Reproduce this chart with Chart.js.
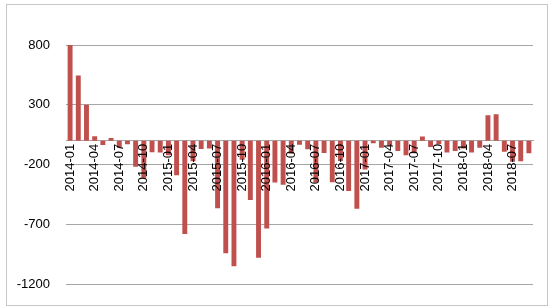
<!DOCTYPE html>
<html>
<head>
<meta charset="utf-8">
<script src="https://cdn.jsdelivr.net/npm/chart.js@4"></script>
<style>
  body { margin: 0; background: #ffffff; }
  canvas { display: block; }
</style>
</head>
<body>
<canvas id="flow-chart" width="550" height="308"></canvas>
<script>
// Monthly categories, 2014-01 .. 2018-09
const months = [
  '2014-01', '2014-02', '2014-03', '2014-04', '2014-05', '2014-06', '2014-07', '2014-08', '2014-09', '2014-10', '2014-11', '2014-12',
  '2015-01', '2015-02', '2015-03', '2015-04', '2015-05', '2015-06', '2015-07', '2015-08', '2015-09', '2015-10', '2015-11', '2015-12',
  '2016-01', '2016-02', '2016-03', '2016-04', '2016-05', '2016-06', '2016-07', '2016-08', '2016-09', '2016-10', '2016-11', '2016-12',
  '2017-01', '2017-02', '2017-03', '2017-04', '2017-05', '2017-06', '2017-07', '2017-08', '2017-09', '2017-10', '2017-11', '2017-12',
  '2018-01', '2018-02', '2018-03', '2018-04', '2018-05', '2018-06', '2018-07', '2018-08', '2018-09'
];

// Values
const values = [
  800, 545, 300, 36, -37, 22, -60, -30, -218, -310, -97, -99,
  -122, -289, -780, -172, -70, -66, -565, -942, -1049, -160, -497, -978,
  -735, -350, -368, -110, -33, -71, -350, -104, -348, -170, -420, -569,
  -240, -22, -60, -45, -87, -122, -105, 34, -53, -27, -99, -87,
  -66, -99, -60, 213, 221, -92, -176, -171, -106
];

// y tick labels
const yTicks = [-1200, -700, -200, 300, 800];

document.addEventListener("DOMContentLoaded", function () {
  // light frame round the whole chart, like the spreadsheet export
  const framePlugin = {
    id: 'frame',
    afterDraw(chart) {
      const ctx = chart.ctx;
      ctx.save();
      ctx.strokeStyle = '#c6c6c6';
      ctx.lineWidth = 1;
      ctx.strokeRect(6.5, 4.5, 541, 301);
      ctx.restore();
    }
  };

  new Chart(document.getElementById("flow-chart"), {
    type: "bar",
    data: {
      labels: months,
      datasets: [
        {
          data: values,
          backgroundColor: '#C0504D',
          categoryPercentage: 1,
          barPercentage: 0.6,
        },
      ],
    },
    plugins: [framePlugin],
    options: {
      responsive: false,
      animation: false,
      layout: {
        padding: { top: 45, right: 17, bottom: 21, left: 0 },
      },
      plugins: {
        legend: { display: false },
        tooltip: { enabled: false },
      },
      scales: {
        x: {
          position: { y: 0 },
          afterFit: (scale) => { scale.height = 0; },
          grid: { display: false, drawTicks: false },
          border: { display: true, color: '#a6a6a6', width: 1 },
          ticks: {
            z: 1, // labels sit on top of the bars
            autoSkip: false,
            minRotation: 90,
            maxRotation: 90,
            padding: 3,
            color: '#000000',
            font: { family: 'Liberation Sans', size: 13 },
            callback: function (value, index) {
              return index % 3 === 0 ? this.getLabelForValue(value) : '';
            },
          },
        },
        y: {
          min: -1200,
          max: 800,
          afterFit: (scale) => { scale.width = 66; },
          afterBuildTicks: (scale) => {
            scale.ticks = yTicks.map(v => ({ value: v }));
          },
          grid: { color: '#a6a6a6', drawTicks: false },
          border: { display: false },
          ticks: {
            padding: 16,
            color: '#000000',
            font: { family: 'Liberation Sans', size: 13 },
            callback: (value) => String(value),
          },
        },
      },
    },
  });
});
</script>
</body>
</html>
